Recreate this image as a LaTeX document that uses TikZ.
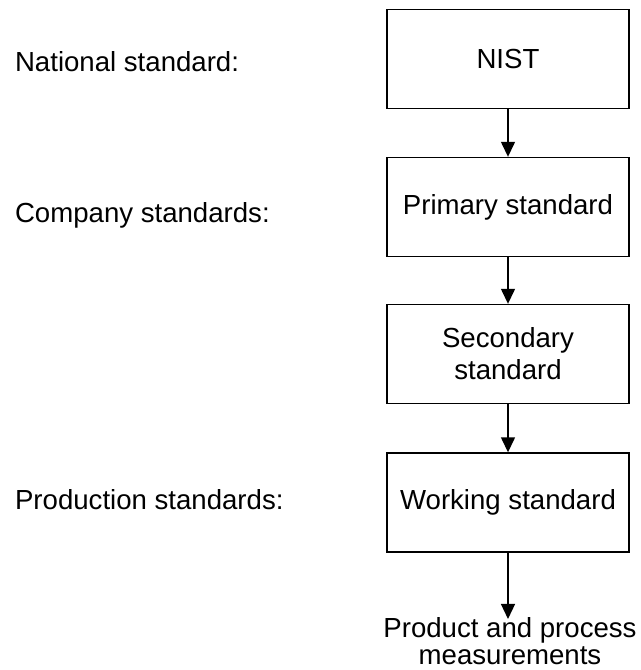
\documentclass[tikz,border=0pt]{standalone}
\usepackage{fontspec}
\setmainfont{Liberation Sans}
\usepackage{tikz}
\usetikzlibrary{arrows.meta,positioning}

\tikzset{
  stdbox/.style={draw,line width=0.7pt,minimum width=121pt,minimum height=49.5pt,
    align=center,font=\fontsize{13.8}{16}\selectfont},
  lvl/.style={anchor=west,font=\fontsize{13.8}{16}\selectfont},
  flow/.style={-{Triangle[length=7.5pt,width=7pt]},line width=0.7pt}
}

\begin{document}
\begin{tikzpicture}[x=0.5pt,y=-0.5pt]
\useasboundingbox (0,0) rectangle (641,670);

% Levels on the left
\node[lvl] (natl) at (8,62) {National standard:};
\node[lvl] (comp) at (8,215) {Company standards:};
\node[lvl] (prod) at (8,500) {Production standards:};

% Chain of standards
\node[stdbox] (nist) at (508,59) {NIST};
\node[stdbox] (prim) at (508,207) {Primary standard};
\node[stdbox] (sec) at (508,354) {Secondary\\standard};
\node[stdbox] (work) at (508,502.5) {Working standard};

% Output
\node[align=center,inner sep=1pt,font=\fontsize{13.8}{13.5}\selectfont] (meas) at (510,641) {Product and process\\measurements};

% Arrows
\draw[flow] (nist) -- (prim);
\draw[flow] (prim) -- (sec);
\draw[flow] (sec) -- (work);
\draw[flow] (work.south) -- ([yshift=-2pt]work.south |- meas.north);
\end{tikzpicture}
\end{document}
